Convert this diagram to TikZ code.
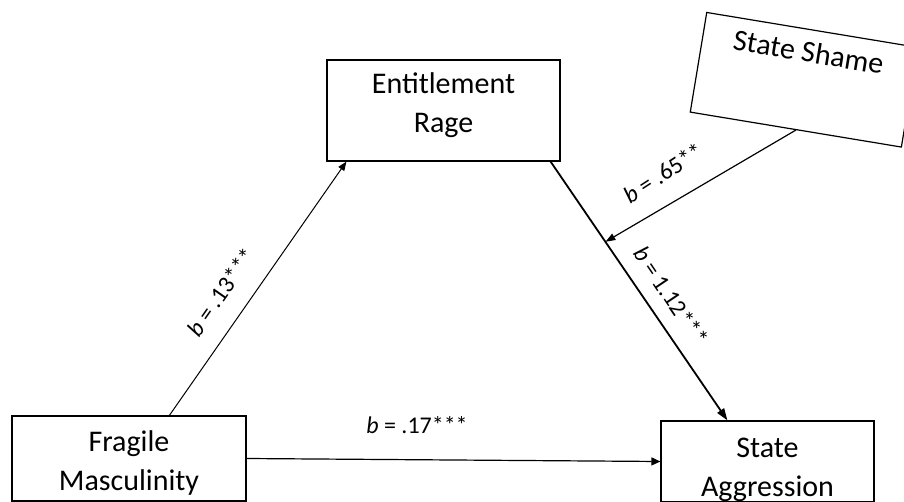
\documentclass[tikz,border=0pt]{standalone}
\usepackage{fontspec}
\setmainfont{Carlito}
\usetikzlibrary{arrows.meta}
\begin{document}
\begin{tikzpicture}[x=1pt,y=-1pt,
  box/.style={draw, line width=1.2pt, align=center, anchor=base,
    font=\fontsize{30}{39}\selectfont, inner xsep=0pt, inner ysep=0pt},
  coef/.style={font=\fontsize{24}{28}\selectfont, inner sep=0pt},
  link/.style={-{Triangle[length=9pt,width=7pt]}, line width=1pt}
]
\path[use as bounding box] (0,0) rectangle (904,502);
\clip (0,0) rectangle (904,502);

% variables of the mediation model
\node[box, minimum width=233pt, text height=73pt, text depth=28pt] (er) at (443.5,133) {Entitlement\\Rage};
\node[box, minimum width=234pt, text height=74pt, text depth=11pt] (fm) at (129,490) {Fragile\\Masculinity};
\node[box, minimum width=213pt, text height=75pt, text depth=6pt] (sa) at (767.5,496) {State\\Aggression};
\node[box, minimum width=214pt, text height=32.5pt, text depth=68.5pt, rotate=-9.4] (ss) at (807,62) {State Shame};

% paths
\draw[link] ([xshift=158pt]fm.north west) -- ([xshift=20pt]er.south west);
\draw[link, line width=1.8pt, -{Triangle[length=12pt,width=8pt]}]
  ([xshift=-10pt]er.south east) -- coordinate[pos=0.31] (mod) ([xshift=67pt]sa.north west);
\draw[link, line width=1.2pt, -{Triangle[length=10pt,width=7pt]}] (ss.south) -- (mod);
\draw[link, line width=1.2pt, -{Triangle[length=9pt,width=8pt]}] (fm.east) -- (sa.west);

% path coefficients
\node[coef, rotate=55] (c13) at (221,292) {\textit{b} = .13***};
\node[coef, rotate=33] (c65) at (663,173) {\textit{b} = .65**};
\node[coef, rotate=-56] (c112) at (671,296) {\textit{b} = 1.12***};
\node[coef] (c17) at (417,425) {\textit{b} = .17***};
\end{tikzpicture}
\end{document}
